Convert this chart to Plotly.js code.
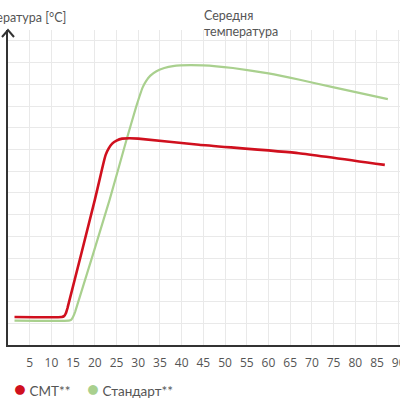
<!DOCTYPE html>
<html>
<head>
<meta charset="utf-8">
<script src="https://cdn.plot.ly/plotly-3.0.1.min.js"></script>
<style>html,body{margin:0;padding:0;background:#fff;}#chart{width:400px;height:400px;}</style>
</head>
<body>
<div id="chart"></div>
<script>
// Time axis ticks
const xTicks = [5,10,15,20,25,30,35,40,45,50,55,60,65,70,75,80,85,90];

// CMT** series
const cmtX = [1.5, 12.4, 12.9, 13.3, 13.7, 20.0, 21.2, 21.9, 22.5, 23.2, 24.0, 25.0, 26.3, 28.0, 30.0, 44.0, 67.0, 86.8];
const cmtY = [1.29, 1.29, 1.33, 1.45, 1.7, 6.68, 7.7, 8.3, 8.75, 9.05, 9.27, 9.41, 9.5, 9.52, 9.5, 9.22, 8.83, 8.29];

// Стандарт** series
const stdX = [1.5, 14.0, 14.6, 15.0, 15.5, 23.4, 27.3, 29.5, 30.3, 31.0, 31.8, 32.8, 34.2, 36.0, 38.0, 42.0, 48.0, 51.8, 60.0, 67.2, 74.8, 87.5];
const stdY = [1.12, 1.12, 1.17, 1.3, 1.55, 6.68, 9.45, 10.95, 11.45, 11.85, 12.15, 12.4, 12.6, 12.75, 12.84, 12.88, 12.83, 12.75, 12.5, 12.21, 11.87, 11.32];

const seriesNames = ['CMT**', 'Стандарт**'];
const seriesColors = ['#d0101e', '#a9d08e'];

const textFont = {family: 'Lato, sans-serif', size: 12.5, color: '#555'};
const legendFont = {family: 'Lato, sans-serif', size: 13.5, color: '#555'};

const traces = [
  {x: stdX, y: stdY, name: seriesNames[1], mode: 'lines', showlegend: false,
   line: {color: seriesColors[1], width: 2.2, shape: 'spline', smoothing: 0.4}},
  {x: cmtX, y: cmtY, name: seriesNames[0], mode: 'lines', showlegend: false,
   line: {color: seriesColors[0], width: 2.6, shape: 'spline', smoothing: 0.4}}
];

const layout = {
  width: 400, height: 400,
  margin: {l: 8, r: 0, t: 30, b: 55},
  paper_bgcolor: '#fff', plot_bgcolor: '#fff',
  showlegend: false,
  xaxis: {
    range: [0, 90.3], tickvals: xTicks, ticktext: xTicks.map(String),
    showgrid: true, gridcolor: '#e9e9e9', gridwidth: 1, zeroline: false,
    showline: true, linecolor: '#333', linewidth: 2,
    ticks: 'outside', ticklen: 6, tickcolor: 'rgba(0,0,0,0)',
    ticklabeloverflow: 'allow',
    tickfont: {family: 'Open Sans, sans-serif', size: 12, color: '#555'},
    fixedrange: true
  },
  yaxis: {
    range: [0, 14.5], dtick: 1, tick0: 0,
    showgrid: true, gridcolor: '#e9e9e9', gridwidth: 1, zeroline: false,
    showline: true, linecolor: '#333', linewidth: 2,
    showticklabels: false, ticks: '', fixedrange: true
  },
  shapes: [
    {type: 'path', xref: 'paper', yref: 'paper', xsizemode: 'pixel', ysizemode: 'pixel',
     xanchor: 0, yanchor: 1, path: 'M-6,-7 L0,0 L6,-7',
     line: {color: '#333', width: 2}}
  ],
  annotations: [
    {text: 'Температура [°C]', xref: 'paper', yref: 'paper', x: 0.153, y: 1.041,
     xanchor: 'right', yanchor: 'middle', showarrow: false, font: textFont},
    {text: 'Середня<br>температура', xref: 'paper', yref: 'paper', x: 0.495, y: 1.02,
     xanchor: 'left', yanchor: 'middle', align: 'left', showarrow: false, font: textFont},
    {text: '<span style="color:' + seriesColors[0] + ';font-size:20px">●</span> ' + seriesNames[0],
     xref: 'paper', yref: 'paper', x: 0.01, y: -0.136, xanchor: 'left', yanchor: 'middle',
     showarrow: false, font: legendFont},
    {text: '<span style="color:' + seriesColors[1] + ';font-size:20px">●</span> ' + seriesNames[1],
     xref: 'paper', yref: 'paper', x: 0.197, y: -0.136, xanchor: 'left', yanchor: 'middle',
     showarrow: false, font: legendFont}
  ]
};

Plotly.newPlot('chart', traces, layout, {displayModeBar: false, staticPlot: true});
</script>
</body>
</html>
